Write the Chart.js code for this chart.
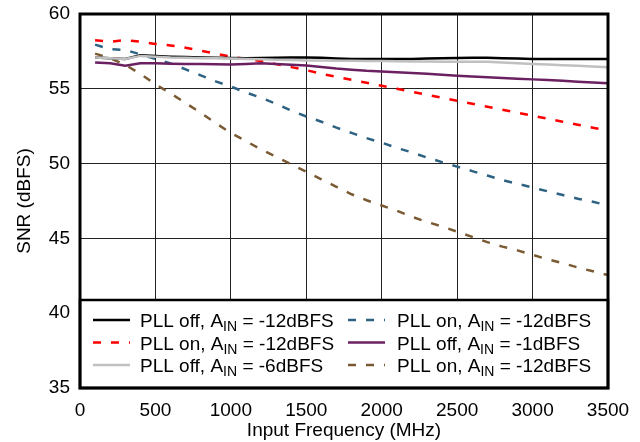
<!DOCTYPE html>
<html>
<head>
<meta charset="utf-8">
<script src="https://cdn.jsdelivr.net/npm/chart.js@4.4.1/dist/chart.umd.min.js"></script>
<style>
  html, body { margin: 0; padding: 0; background: #fff; }
  #wrap { width: 640px; height: 442px; }
</style>
</head>
<body>
<div id="wrap"><canvas id="snrChart" width="640" height="442"></canvas></div>
<script>
// frequencies (MHz)
const freqMHz = [100, 200, 300, 400, 500, 600, 700, 800, 900, 1000,
  1100, 1200, 1300, 1400, 1500, 1600, 1700, 1800, 1900, 2000,
  2100, 2200, 2300, 2400, 2500, 2600, 2700, 2800, 2900, 3000,
  3100, 3200, 3300, 3400, 3500];

// SNR values (dBFS)
const offM12 = [57.1, 57.05, 57.0, 57.25, 57.2, 57.15, 57.12, 57.1, 57.08, 57.06,
  57.05, 57.06, 57.08, 57.1, 57.1, 57.07, 57.03, 57.0, 57.0, 57.0,
  57.0, 57.0, 57.02, 57.04, 57.06, 57.08, 57.08, 57.05, 57.02, 57.0,
  57.0, 57.0, 57.0, 57.0, 57.0];
const onM12Red = [58.25, 58.15, 58.25, 58.15, 58.0, 57.9, 57.75, 57.55, 57.35, 57.15,
  57.0, 56.85, 56.65, 56.45, 56.25, 56.0, 55.8, 55.6, 55.4, 55.2,
  55.0, 54.8, 54.6, 54.4, 54.2, 54.0, 53.8, 53.6, 53.4, 53.2,
  53.0, 52.8, 52.6, 52.4, 52.2];
const offM6 = [57.1, 57.05, 57.0, 57.2, 57.15, 57.1, 57.08, 57.05, 57.04, 57.02,
  57.0, 56.98, 56.95, 56.92, 56.9, 56.9, 56.88, 56.87, 56.86, 56.85,
  56.84, 56.83, 56.82, 56.81, 56.8, 56.8, 56.8, 56.75, 56.7, 56.66,
  56.62, 56.58, 56.54, 56.49, 56.44];
const onM12Blue = [57.95, 57.65, 57.6, 57.3, 57.0, 56.7, 56.3, 55.9, 55.5, 55.15,
  54.75, 54.4, 54.0, 53.55, 53.15, 52.8, 52.4, 52.05, 51.7, 51.4,
  51.05, 50.75, 50.4, 50.1, 49.8, 49.5, 49.2, 48.9, 48.65, 48.4,
  48.15, 47.9, 47.65, 47.45, 47.2];
const offM1 = [56.75, 56.7, 56.55, 56.7, 56.7, 56.68, 56.66, 56.65, 56.64, 56.63,
  56.66, 56.7, 56.66, 56.6, 56.55, 56.45, 56.35, 56.28, 56.2, 56.15,
  56.1, 56.05, 56.0, 55.94, 55.88, 55.83, 55.78, 55.73, 55.68, 55.63,
  55.58, 55.53, 55.47, 55.42, 55.37];
const onM12Brown = [57.35, 57.05, 56.6, 56.0, 55.3, 54.7, 54.05, 53.4, 52.7, 52.05,
  51.5, 50.95, 50.45, 49.95, 49.45, 48.95, 48.45, 47.95, 47.55, 47.2,
  46.85, 46.45, 46.1, 45.8, 45.45, 45.1, 44.75, 44.45, 44.2, 43.9,
  43.6, 43.35, 43.05, 42.8, 42.55];

// legend texts: before subscript, subscript, after
const seriesNames = [
  ['PLL off, A', 'IN', ' = -12dBFS'],
  ['PLL on, A', 'IN', ' = -12dBFS'],
  ['PLL off, A', 'IN', ' = -6dBFS'],
  ['PLL on, A', 'IN', ' = -12dBFS'],
  ['PLL off, A', 'IN', ' = -1dBFS'],
  ['PLL on, A', 'IN', ' = -12dBFS']
];
const seriesColors = ['#000000', '#ff0000', '#c0c0c0', '#2d6283', '#6b2062', '#7a5a32'];
const seriesDashed = [false, true, false, true, false, true];
const seriesValues = [offM12, onM12Red, offM6, onM12Blue, offM1, onM12Brown];

const FONT = '"Liberation Sans", Arial, sans-serif';
const DASH = [8, 10];

// draw order: first dataset ends up on top
const drawOrder = [2, 0, 4, 1, 3, 5];

const datasets = drawOrder.map(i => ({
  label: seriesNames[i].join(''),
  data: freqMHz.map((f, k) => ({ x: f, y: seriesValues[i][k] })),
  borderColor: seriesColors[i],
  borderWidth: 2.5,
  borderDash: seriesDashed[i] ? DASH : [],
  pointRadius: 0,
  tension: 0,
  fill: false
}));

// no extra label padding, so layout.padding places the plot exactly
function noPad(s) {
  s.paddingTop = 0; s.paddingBottom = 0;
  s.paddingLeft = 0; s.paddingRight = 0;
}

// legend box + thick frame
const frameAndLegend = {
  id: 'frameAndLegend',
  afterDatasetsDraw(chart) {
    const ctx = chart.ctx;
    const a = chart.chartArea;
    const boxTop = 300;

    ctx.save();
    ctx.fillStyle = '#fff';
    ctx.fillRect(a.left, boxTop, a.right - a.left, a.bottom - boxTop);
    ctx.strokeStyle = '#000';
    ctx.lineWidth = 2.5;
    ctx.strokeRect(a.left, boxTop, a.right - a.left, a.bottom - boxTop);

    const cols = [{ line: 93, text: 140 }, { line: 348, text: 397 }];
    const rows = [327, 349.5, 372];
    for (let i = 0; i < seriesNames.length; i++) {
      const col = cols[Math.floor(i / 3)];
      const base = rows[i % 3];
      ctx.beginPath();
      ctx.strokeStyle = seriesColors[i];
      ctx.lineWidth = 2.5;
      ctx.setLineDash(seriesDashed[i] ? DASH : []);
      ctx.moveTo(col.line, base - 7);
      ctx.lineTo(col.line + 37, base - 7);
      ctx.stroke();
      ctx.setLineDash([]);

      ctx.fillStyle = '#000';
      ctx.textBaseline = 'alphabetic';
      ctx.textAlign = 'left';
      let x = col.text;
      ctx.font = '19px ' + FONT;
      ctx.fillText(seriesNames[i][0], x, base);
      x += ctx.measureText(seriesNames[i][0]).width;
      ctx.font = '14px ' + FONT;
      ctx.fillText(seriesNames[i][1], x, base + 4);
      x += ctx.measureText(seriesNames[i][1]).width;
      ctx.font = '19px ' + FONT;
      ctx.fillText(seriesNames[i][2], x, base);
    }

    ctx.strokeStyle = '#000';
    ctx.lineWidth = 3;
    ctx.strokeRect(a.left, a.top, a.right - a.left, a.bottom - a.top);
    ctx.restore();
  }
};

new Chart(document.getElementById('snrChart'), {
  type: 'line',
  data: { datasets: datasets },
  options: {
    responsive: false,
    animation: false,
    devicePixelRatio: 1,
    layout: { padding: { top: 14, right: 32, left: 0, bottom: 0 } },
    plugins: {
      legend: { display: false },
      tooltip: { enabled: false }
    },
    scales: {
      x: {
        type: 'linear',
        min: 0,
        max: 3500,
        afterFit(s) { s.height = 54; noPad(s); },
        ticks: {
          stepSize: 500,
          maxRotation: 0,
          padding: 11,
          color: '#000',
          font: { family: FONT, size: 19 },
          callback: v => String(v)
        },
        grid: { color: '#222', lineWidth: 1, drawTicks: false },
        border: { display: false },
        title: {
          display: true,
          text: 'Input Frequency (MHz)',
          color: '#000',
          font: { family: FONT, size: 19 },
          padding: { top: 0, bottom: 0 }
        }
      },
      y: {
        min: 35,
        max: 60,
        afterFit(s) { s.width = 80; noPad(s); },
        ticks: {
          stepSize: 5,
          padding: 10,
          color: '#000',
          font: { family: FONT, size: 19 }
        },
        grid: { color: '#222', lineWidth: 1, drawTicks: false },
        border: { display: false },
        title: {
          display: true,
          text: 'SNR (dBFS)',
          color: '#000',
          font: { family: FONT, size: 19 },
          padding: { top: 13, bottom: 0 }
        }
      }
    }
  },
  plugins: [frameAndLegend]
});
</script>
</body>
</html>
